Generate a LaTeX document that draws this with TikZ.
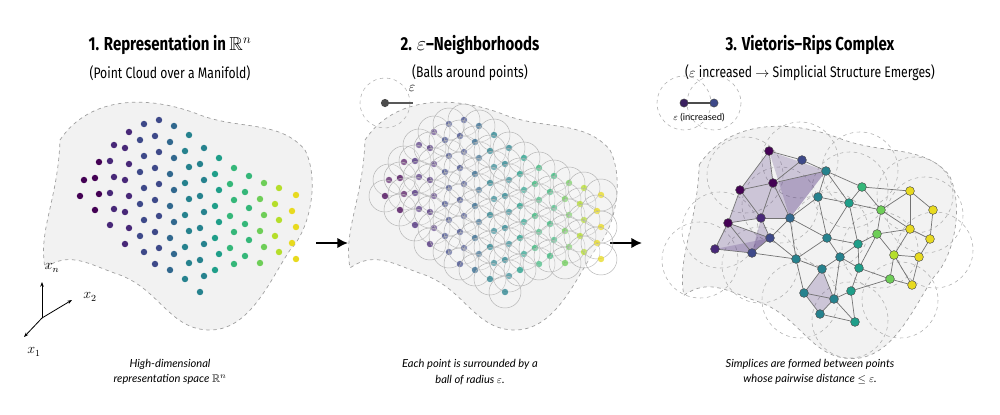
\documentclass[tikz,border=0pt]{standalone}
\usepackage{amssymb}
\usepackage{fontspec}
\setmainfont{Fira Sans}
\newfontfamily\titfont{Fira Sans}[FakeStretch=0.8,Ligatures=TeX]
\newfontfamily\subfont{Fira Sans}[FakeStretch=0.8,Ligatures=TeX]
\newfontfamily\capfont{Lato}
\usetikzlibrary{arrows.meta}
\definecolor{v1}{HTML}{440154}\definecolor{v2}{HTML}{482878}\definecolor{v3}{HTML}{3E4989}
\definecolor{v4}{HTML}{31688E}\definecolor{v5}{HTML}{26828E}\definecolor{v6}{HTML}{1F9E89}
\definecolor{v7}{HTML}{35B779}\definecolor{v8}{HTML}{6ECE58}\definecolor{v9}{HTML}{B5DE2B}
\definecolor{v10}{HTML}{E8DA1F}
\tikzset{
 surf/.style={fill=gray!10,draw=gray!75,dashed,line width=0.6pt},
 dot/.style={circle,inner sep=0pt,minimum size=5.5pt},
 gnode/.style={circle,inner sep=0pt,minimum size=7.5pt,draw=black!70,line width=0.4pt},
 edge/.style={draw=black!55,line width=0.6pt},
 tri/.style={fill=v2,fill opacity=0.22,draw=none},
 ball/.style={draw=gray!60,line width=0.4pt,fill=white,fill opacity=0.12},
 dball/.style={draw=gray!60,dashed,line width=0.5pt},
 title/.style={font=\titfont\bfseries\fontsize{16}{19}\selectfont},
 sub/.style={font=\subfont\fontsize{13}{16}\selectfont},
 captxt/.style={font=\capfont\itshape\fontsize{9.5}{13}\selectfont,align=center},
 bigarrow/.style={-{Latex[length=9pt,width=9pt]},line width=2.2pt}
}
\newcommand\surfpath{(60,140) .. controls (90,95) and (150,95) .. (200,115) .. controls (240,130) and (280,120) .. (305,150) .. controls (320,180) and (310,230) .. (290,250) .. controls (270,280) and (250,330) .. (210,330) .. controls (170,330) and (160,290) .. (120,275) .. controls (90,265) and (70,250) .. (45,268) .. controls (38,230) and (58,200) .. (60,140) -- cycle}
\newcommand\cols{80/180/2/v1,95/162/4/v1,110/145/6/v2,125/132/8/v2,140/124/9/v3,155/120/10/v3,170/126/10/v4,185/135/10/v5,200/148/10/v5,215/158/8/v6,230/168/7/v7,245/176/6/v7,260/183/6/v8,275/188/5/v9,292/195/5/v10}
\begin{document}
\begin{tikzpicture}[x=0.03cm,y=-0.03cm]
\useasboundingbox (0,0) rectangle (1000,414);
% titles
\node[title] (t1) at (170,45) {1. Representation in $\mathbb{R}^n$};
\node[sub] (s1) at (170,73) {(Point Cloud over a Manifold)};
\node[title] (t2) at (470,45) {2. $\varepsilon$\textendash Neighborhoods};
\node[sub] (s2) at (470,73) {(Balls around points)};
\node[title] (t3) at (810,45) {3. Vietoris\textendash Rips Complex};
\node[sub] (s3) at (810,73) {($\varepsilon$ increased $\rightarrow$ Simplicial Structure Emerges)};
% panel 1
\path[surf] \surfpath;
\foreach \x/\y/\n/\c in \cols {
  \foreach \i in {1,...,\n} {
    \pgfmathsetmacro\yy{\y+(\i-1)*16}
    \pgfmathsetmacro\xx{\x+mod(\i,2)*4}
    \node[dot,fill=\c] at (\xx,\yy) {};
  }
}
\coordinate (o) at (42,318);
\coordinate (an) at (42,282);
\coordinate (a2) at (72,300);
\coordinate (a1) at (24,337);
\draw[-{Stealth[length=4pt]},line width=0.7pt] (o) -- (an);
\draw[-{Stealth[length=4pt]},line width=0.7pt] (o) -- (a2);
\draw[-{Stealth[length=4pt]},line width=0.7pt] (o) -- (a1);
\node[font=\large] (ln) at (52,268) {$x_n$};
\node[font=\large] (l2) at (90,297) {$x_2$};
\node[font=\large] (l1) at (34,352) {$x_1$};
\node[captxt] (c1) at (170,372) {High-dimensional\\representation space $\mathbb{R}^n$};
% arrows
\coordinate (ar1) at (316,243); \coordinate (ar1b) at (348,243);
\draw[bigarrow] (ar1) -- (ar1b);
\coordinate (ar2) at (610,243); \coordinate (ar2b) at (642,243);
\draw[bigarrow] (ar2) -- (ar2b);
% panel 2
\begin{scope}[shift={(305,0)}]
\path[surf] \surfpath;
\foreach \x/\y/\n/\c in \cols {
  \foreach \i in {1,...,\n} {
    \pgfmathsetmacro\yy{\y+(\i-1)*16}
    \pgfmathsetmacro\xx{\x+mod(\i,2)*4}
    \draw[ball] (\xx,\yy) circle (16);
    \node[dot,fill=\c,opacity=0.75] at (\xx,\yy) {};
  }
}
\end{scope}
\draw[dball] (385,103) circle (25);
\node[dot,fill=black!70,minimum size=7pt] (ec) at (385,103) {};
\coordinate (ee) at (413,103);
\draw[line width=1pt,black!65] (ec) -- (ee);
\node[font=\large] (el) at (412,88) {$\varepsilon$};
\node[captxt] (c2) at (470,372) {Each point is surrounded by a\\ball of radius $\varepsilon$.};
% panel 3 legend
\draw[dball] (684,103) circle (27);
\draw[dball] (714,103) circle (27);
\node[gnode,fill=v2!80!black,minimum size=7pt] (p1) at (684,103) {};
\node[gnode,fill=v3,minimum size=7pt] (p2) at (714,103) {};
\draw[line width=1.2pt,black!70] (p1) -- (p2);
\node[font=\capfont\fontsize{8}{9}\selectfont] (pl) at (699,118) {$\varepsilon$ (increased)};
% panel 3
\begin{scope}[shift={(638,22)},scale=1.02]
\path[surf] \surfpath;
\end{scope}
\foreach \cx/\cy in {745/175, 800/160, 860/170, 915/195, 935/250, 720/230, 760/265, 800/300, 850/320, 900/300, 830/230, 880/250, 780/205, 850/190, 700/260, 925/215}
  \draw[dball] (\cx,\cy) circle (38);
\foreach \n/\x/\y in {a/769/151,b/802/160,c/826/171,d/773/183,e/740/190,f/728/223,g/715/249,h/761/218,i/790/218,j/770/238,k/752/253,l/818/197,m/849/203,nn/862/187,o/827/238,p/796/259,q/840/257,r/822/269,s/858/244,t/859/268,u/804/293,w/834/299,x/851/291,y/820/314,z/855/322,A/881/210,B/877/234,C/894/255,D/890/279,E/910/191,F/933/210,G/910/229,H/930/239,I/919/257,J/912/285}
  \coordinate (\n) at (\x,\y);
\foreach \p/\q/\r in {a/d/e,e/f/h,f/g/k,d/h/i,a/c/i,f/j/k,d/i/c,u/y/w,r/u/w,g/k/j,e/h/d,h/j/k}
  \fill[tri] (\p) -- (\q) -- (\r) -- cycle;
\foreach \p/\q in {a/b,b/c,a/d,a/e,d/e,e/f,f/g,d/h,e/h,f/h,d/i,h/i,f/j,h/j,i/j,g/k,f/k,j/k,i/l,c/l,b/d,d/c,l/m,c/m,m/nn,c/nn,l/o,i/o,m/o,o/s,m/s,nn/A,m/A,A/B,s/B,o/q,q/s,i/p,j/p,k/p,p/o,p/r,r/q,q/t,s/t,t/B,r/u,p/u,u/w,r/w,w/x,t/x,q/w,u/y,y/w,w/z,y/z,x/z,x/D,t/D,D/C,C/B,B/G,A/E,E/F,E/G,F/H,G/H,G/C,H/I,C/I,I/J,D/J,C/J,A/G,nn/E}
  \draw[edge] (\p) -- (\q);
\foreach \n/\c in {a/v1,b/v3,c/v5,d/v1,e/v1,f/v1,g/v2,h/v2,i/v4,j/v3,k/v3,l/v5,m/v6,nn/v7,o/v5,p/v5,q/v5,r/v5,s/v6,t/v6,u/v5,w/v5,x/v6,y/v5,z/v6,A/v8,B/v8,C/v9,D/v8,E/v10,F/v10,G/v10,H/v10,I/v10,J/v10}
  \node[gnode,fill=\c] (N\n) at (\n) {};
\node[captxt] (c3) at (810,372) {Simplices are formed between points\\whose pairwise distance $\leq\varepsilon$.};
\end{tikzpicture}
\end{document}
